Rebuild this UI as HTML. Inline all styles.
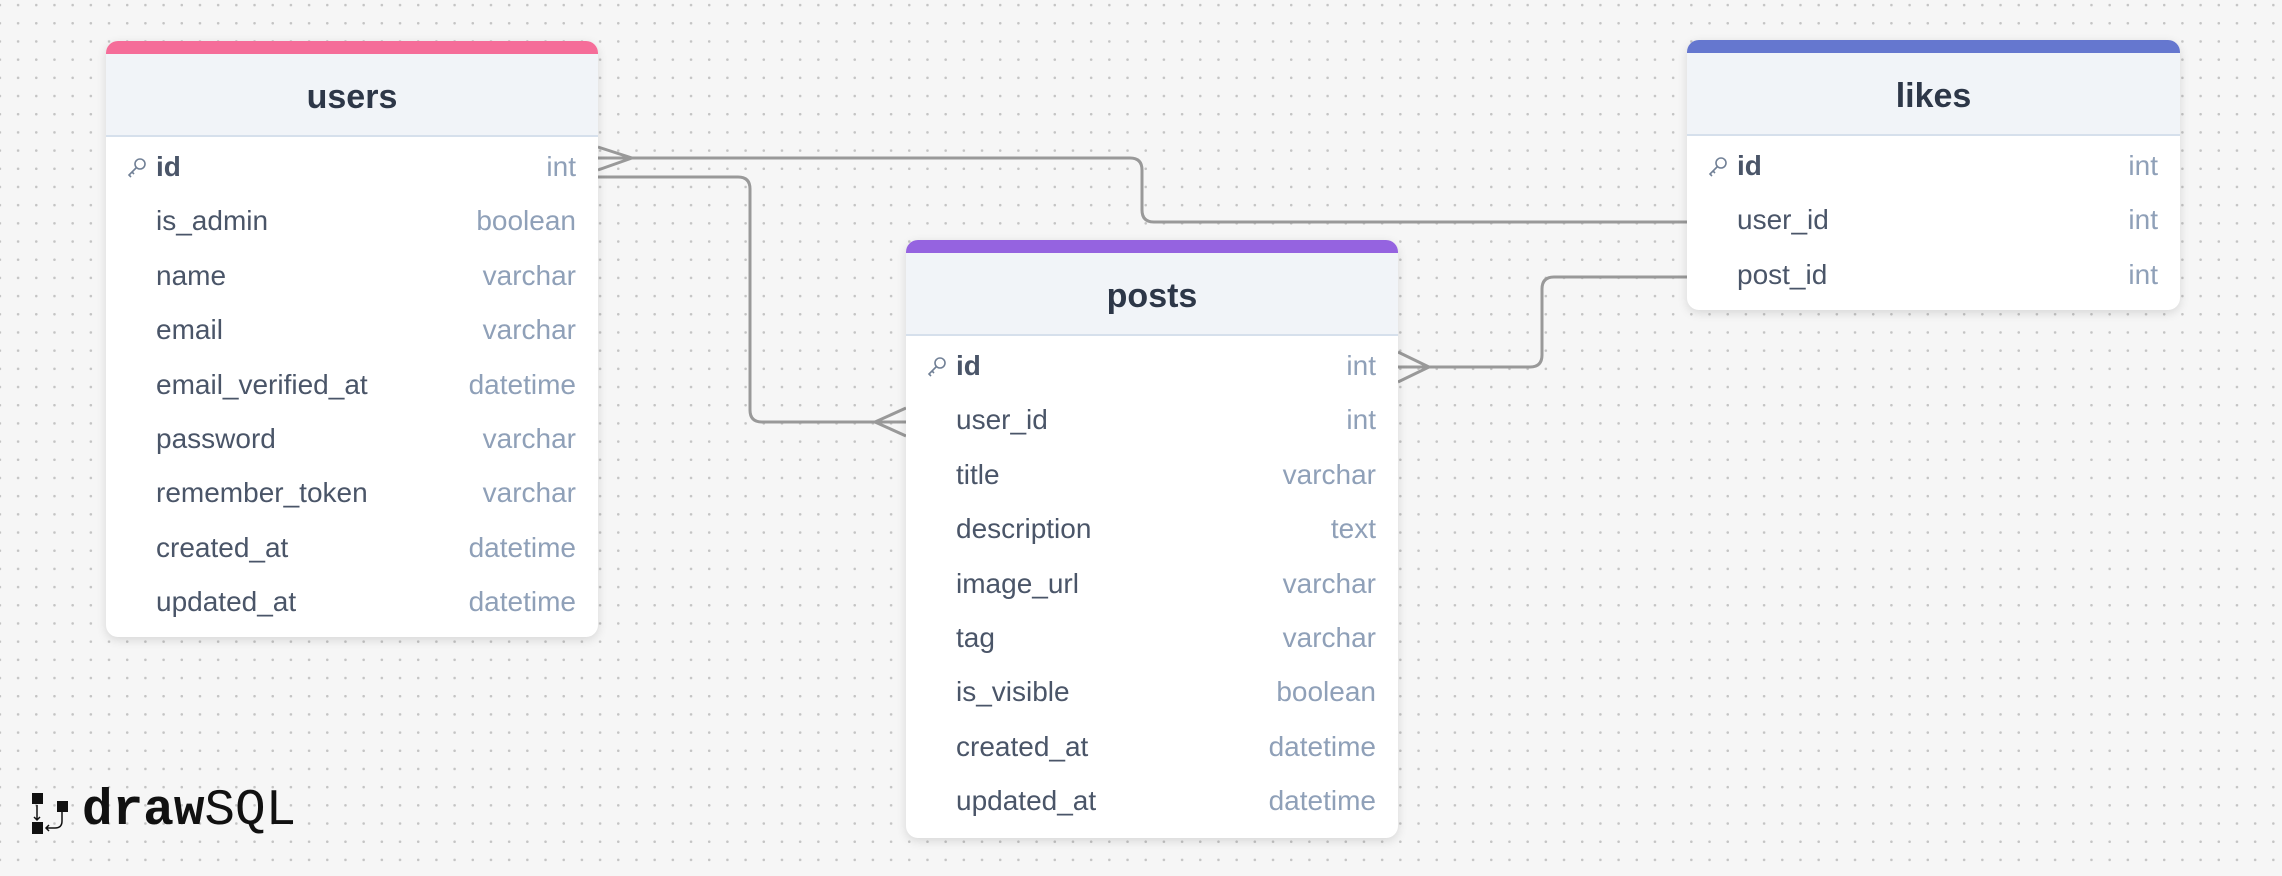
<!DOCTYPE html>
<html><head><meta charset="utf-8"><style>
body{margin:0;width:2282px;height:876px;overflow:hidden;background:#f6f6f6;
background-image:radial-gradient(circle,#c4c4c4 1.1px,transparent 1.5px);background-size:18.2px 18.2px;background-position:9px -4px;
font-family:"Liberation Sans",sans-serif;position:relative}
.t{position:absolute;background:#fff;border-radius:12px;box-shadow:0 3px 10px rgba(0,0,0,.13);overflow:hidden}
.bar{height:13px}
.h{height:81px;background:#f1f4f8;border-bottom:2px solid #d6e0ec;text-align:center;line-height:86px;font-weight:bold;font-size:34px;color:#2d3748}
.r{height:54.4px;position:relative;font-size:28px;line-height:54.4px}
.n{position:absolute;left:50px;color:#4a5568}
.ty{position:absolute;right:22px;color:#8fa0b8}
.k{font-weight:bold}
.key{position:absolute;left:20px;top:16px;width:22px;height:22px}
svg.c{position:absolute;left:0;top:0}
</style></head><body>
<svg class="c" width="2282" height="876" fill="none" stroke="#999" stroke-width="3">
<path d="M598 158 H1130 Q1142 158 1142 170 V210 Q1142 222 1154 222 H1687"/>
<path d="M598 147 L632 158 L598 170"/>
<path d="M598 177 H738 Q750 177 750 189 V410 Q750 422 762 422 H906"/>
<path d="M906 408 L875 422 L906 436"/>
<path d="M1398 367 H1530 Q1542 367 1542 355 V289 Q1542 277 1554 277 H1687"/>
<path d="M1398 352 L1429 367 L1398 382"/>
</svg>

<div class="t" style="left:106px;top:41px;width:492px;height:596px">
<div class="bar" style="background:#f56d99"></div>
<div class="h">users</div>
<div style="height:3px"></div>
<div class="r"><svg class="key" viewBox="0 0 22 22" fill="none" stroke="#718096" stroke-width="1.6"><circle cx="14" cy="8" r="5"/><path d="M10 12 L3 19 L5 21 M6 16 L8 18"/></svg><span class="n k">id</span><span class="ty">int</span></div>
<div class="r"><span class="n">is_admin</span><span class="ty">boolean</span></div>
<div class="r"><span class="n">name</span><span class="ty">varchar</span></div>
<div class="r"><span class="n">email</span><span class="ty">varchar</span></div>
<div class="r"><span class="n">email_verified_at</span><span class="ty">datetime</span></div>
<div class="r"><span class="n">password</span><span class="ty">varchar</span></div>
<div class="r"><span class="n">remember_token</span><span class="ty">varchar</span></div>
<div class="r"><span class="n">created_at</span><span class="ty">datetime</span></div>
<div class="r"><span class="n">updated_at</span><span class="ty">datetime</span></div>
</div>

<div class="t" style="left:906px;top:240px;width:492px;height:598px">
<div class="bar" style="background:#9563e0"></div>
<div class="h">posts</div>
<div style="height:3px"></div>
<div class="r"><svg class="key" viewBox="0 0 22 22" fill="none" stroke="#718096" stroke-width="1.6"><circle cx="14" cy="8" r="5"/><path d="M10 12 L3 19 L5 21 M6 16 L8 18"/></svg><span class="n k">id</span><span class="ty">int</span></div>
<div class="r"><span class="n">user_id</span><span class="ty">int</span></div>
<div class="r"><span class="n">title</span><span class="ty">varchar</span></div>
<div class="r"><span class="n">description</span><span class="ty">text</span></div>
<div class="r"><span class="n">image_url</span><span class="ty">varchar</span></div>
<div class="r"><span class="n">tag</span><span class="ty">varchar</span></div>
<div class="r"><span class="n">is_visible</span><span class="ty">boolean</span></div>
<div class="r"><span class="n">created_at</span><span class="ty">datetime</span></div>
<div class="r"><span class="n">updated_at</span><span class="ty">datetime</span></div>
</div>

<div class="t" style="left:1687px;top:40px;width:493px;height:270px">
<div class="bar" style="background:#6577cf"></div>
<div class="h">likes</div>
<div style="height:3px"></div>
<div class="r"><svg class="key" viewBox="0 0 22 22" fill="none" stroke="#718096" stroke-width="1.6"><circle cx="14" cy="8" r="5"/><path d="M10 12 L3 19 L5 21 M6 16 L8 18"/></svg><span class="n k">id</span><span class="ty">int</span></div>
<div class="r"><span class="n">user_id</span><span class="ty">int</span></div>
<div class="r"><span class="n">post_id</span><span class="ty">int</span></div>
</div>

<div style="position:absolute;left:32px;top:793px;height:44px">
<svg width="40" height="42" style="position:absolute;left:0;top:0" fill="#111" stroke="#111" stroke-width="1.5">
<rect x="0" y="0" width="11" height="11" stroke="none"/><rect x="0" y="29" width="11" height="12" stroke="none"/>
<rect x="25" y="8" width="11" height="11" stroke="none"/>
<path d="M5 12 V27 M2 24 L5 27 L8 24" fill="none"/><path d="M30 19 V28 Q30 35 23 35 H14 M17 32 L14 35 L17 38" fill="none"/>
</svg>
<span style="position:absolute;left:50px;top:-10px;font-family:'Liberation Mono',monospace;font-weight:bold;font-size:51px;color:#111;white-space:nowrap">draw<span style="font-weight:normal">SQL</span></span>
</div>
</body></html>
